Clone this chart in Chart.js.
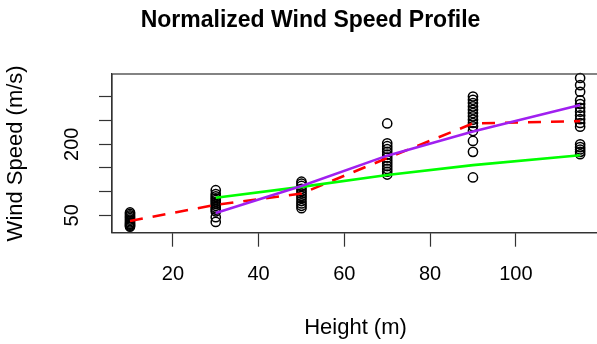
<!DOCTYPE html>
<html>
<head>
<meta charset="utf-8">
<script src="https://cdn.jsdelivr.net/npm/chart.js@4/dist/chart.umd.min.js"></script>
<style>
  html, body { margin: 0; padding: 0; overflow: hidden; background: #fff; }
  canvas { display: block; }
</style>
</head>
<body>
<canvas id="windChart" width="599" height="344"></canvas>
<script>
  // observed speeds at each measuring height
  var heights = [10, 30, 50, 70, 90, 115];
  var speedsAt10 = [26, 28, 30, 32, 35, 38, 41, 44, 47, 50, 53, 56];
  var speedsAt30 = [103, 95, 90, 86, 82, 78, 74, 70, 66, 62, 58, 46, 36];
  var speedsAt50 = [121, 117, 112, 106, 101, 96, 91, 86, 80, 75, 70, 65];
  var speedsAt70 = [244, 202, 196, 190, 184, 178, 172, 166, 160, 154, 148, 142, 136];
  var speedsAt90 = [301, 294, 287, 280, 273, 266, 259, 252, 245, 238, 228, 207, 184, 130];
  var speedsAt115 = [340, 325, 311, 293, 285, 277, 269, 261, 253, 245, 237, 200, 194, 189, 184, 179];

  // mean of each height (red dashed)
  var meanSpeed = [38, 72, 96, 171, 244, 249];

  // fitted profiles, from 30 m up
  var fitHeights = [30, 50, 70, 90, 115];
  var greenFit = [87, 110, 135, 156, 177];
  var purpleFit = [55, 112, 176, 227, 283];

  var xTicks = [20, 40, 60, 80, 100];
  var yTicks = [50, 100, 150, 200, 250, 300];
  var yTickLabels = ['50', '', '', '200', '', ''];

  function toXY(xs, ys) {
    var out = [];
    for (var i = 0; i < xs.length; i++) out.push({x: xs[i], y: ys[i]});
    return out;
  }

  var allSpeeds = [speedsAt10, speedsAt30, speedsAt50, speedsAt70, speedsAt90, speedsAt115];
  var observed = [];
  for (var h = 0; h < heights.length; h++) {
    for (var k = 0; k < allSpeeds[h].length; k++) {
      observed.push({x: heights[h], y: allSpeeds[h][k]});
    }
  }

  var boxPlugin = {
    id: 'plotBox',
    afterDraw: function(chart) {
      var a = chart.chartArea, ctx = chart.ctx;
      ctx.save();
      ctx.strokeStyle = '#333';
      ctx.lineWidth = 1.2;
      ctx.strokeRect(a.left, a.top, a.right - a.left, a.bottom - a.top);
      ctx.restore();
    }
  };

  var font = 'Liberation Sans, Arial, Helvetica, sans-serif';

  new Chart(document.getElementById('windChart').getContext('2d'), {
    type: 'scatter',
    data: {
      datasets: [{
        data: toXY(fitHeights, purpleFit),
        showLine: true, borderColor: '#A020F0', borderWidth: 2.6,
        pointRadius: 0, fill: false
      }, {
        data: toXY(fitHeights, greenFit),
        showLine: true, borderColor: '#00FF00', borderWidth: 2.6,
        pointRadius: 0, fill: false
      }, {
        data: toXY(heights, meanSpeed),
        showLine: true, borderColor: '#FF0000', borderWidth: 2.6,
        borderDash: [13, 10], pointRadius: 0, fill: false
      }, {
        data: observed,
        pointStyle: 'circle', pointRadius: 4.6,
        backgroundColor: 'rgba(0,0,0,0)', borderColor: '#000', borderWidth: 1.5,
        clip: 8
      }]
    },
    options: {
      responsive: false,
      animation: false,
      events: [],
      layout: { autoPadding: false, padding: { left: 22, right: 0, top: 0, bottom: 0 } },
      plugins: {
        legend: { display: false },
        tooltip: { enabled: false },
        title: {
          display: true,
          text: 'Normalized Wind Speed Profile',
          color: '#000',
          font: { family: font, size: 23, weight: 'bold' },
          padding: { top: 7, bottom: 39.4 }
        }
      },
      scales: {
        x: {
          type: 'linear',
          min: 5.8, max: 119.4,
          afterBuildTicks: function(s) { s.ticks = xTicks.map(function(v) { return {value: v}; }); },
          afterFit: function(s) { s.height = 111.3; },
          grid: { drawOnChartArea: false, drawTicks: true, tickLength: 14, tickColor: '#333', tickWidth: 1.2 },
          border: { display: true, color: '#333', width: 1.2 },
          ticks: { autoSkip: false, maxRotation: 0, padding: 16, color: '#000', font: { family: font, size: 20 } },
          title: { display: true, text: 'Height (m)', color: '#000', font: { family: font, size: 22 }, padding: { top: 0, bottom: 3 } }
        },
        y: {
          type: 'linear',
          min: 13.2, max: 348.5,
          afterBuildTicks: function(s) { s.ticks = yTicks.map(function(v) { return {value: v}; }); },
          afterFit: function(s) { s.width = 90; },
          grid: { drawOnChartArea: false, drawTicks: true, tickLength: 13, tickColor: '#333', tickWidth: 1.2 },
          border: { display: true, color: '#333', width: 1.2 },
          ticks: {
            autoSkip: false, minRotation: 90, maxRotation: 90, crossAlign: 'center', padding: 10.3,
            color: '#000', font: { family: font, size: 20 },
            callback: function(v, i) { return yTickLabels[i]; }
          },
          title: { display: true, text: 'Wind Speed (m/s)', color: '#000', font: { family: font, size: 22 }, padding: { top: -19.2, bottom: 0 } }
        }
      }
    },
    plugins: [boxPlugin]
  });
</script>
</body>
</html>
